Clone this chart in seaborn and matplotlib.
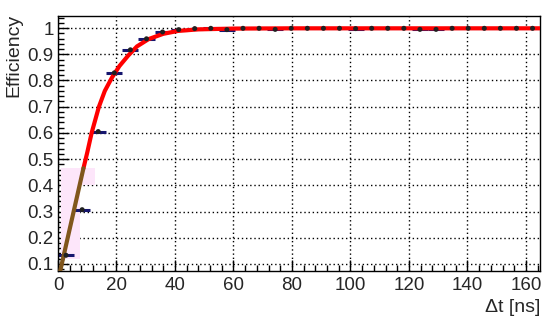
import numpy as np
import pandas as pd
import seaborn as sns
import matplotlib.pyplot as plt
from matplotlib.ticker import MultipleLocator

# Measured efficiency per 5.5 ns bin (bin centres)
bin_centres = [2.75 + 5.5 * k for k in range(30)]
efficiency = [0.133, 0.307, 0.605, 0.829, 0.917, 0.959, 0.985, 0.994, 0.998, 0.999,
              0.994, 0.999, 0.999, 0.995, 0.999, 0.999, 0.999, 0.999, 0.998, 0.999,
              0.999, 0.999, 0.995, 0.995, 0.999, 0.999, 0.999, 0.999, 0.999, 0.999]
eff_err = [0.008, 0.008, 0.007, 0.005, 0.004, 0.003, 0.002, 0.002, 0.001, 0.001,
           0.002, 0.001, 0.001, 0.002, 0.001, 0.001, 0.001, 0.001, 0.001, 0.001,
           0.001, 0.001, 0.002, 0.002, 0.001, 0.001, 0.001, 0.001, 0.001, 0.001]
bin_half_width = 2.75

# Fitted curve
fit_t = [8.7, 10, 11.5, 13, 14, 16, 18.4, 21, 24, 27, 31, 36, 41, 48, 60, 80, 165]
fit_eff = [0.465, 0.525, 0.6, 0.66, 0.7, 0.76, 0.81, 0.855, 0.895, 0.93, 0.958,
           0.978, 0.989, 0.995, 0.998, 0.999, 0.999]

# Linear part at low delta t
lin_t = [0.75, 8.7]
lin_eff = [0.073, 0.465]

# Pink band (staircase)
band_t = [0.9, 7.5, 12.6]
band_low = [0.12, 0.40, 0.40]
band_high = [0.465, 0.465, 0.465]

xticks = [0, 20, 40, 60, 80, 100, 120, 140, 160]
yticks = [0.1, 0.2, 0.3, 0.4, 0.5, 0.6, 0.7, 0.8, 0.9, 1.0]
ytick_labels = ["0.1", "0.2", "0.3", "0.4", "0.5", "0.6", "0.7", "0.8", "0.9", "1"]

sns.set_style("white")
plt.rcParams['font.family'] = ['Liberation Sans', 'DejaVu Sans']

fig = plt.figure(figsize=(5.5, 3.24), dpi=100)
ax = fig.add_axes([58 / 550, 53 / 324, 482 / 550, 255 / 324])

ax.fill_between(band_t, band_low, band_high, step='post', color='#fde6fa', lw=0, zorder=1)

df_pts = pd.DataFrame({'t': bin_centres, 'eff': efficiency})
ax.errorbar(bin_centres, efficiency, xerr=bin_half_width, fmt='none',
            ecolor='#16166e', elinewidth=2.2, zorder=2)
ax.errorbar(bin_centres, efficiency, yerr=eff_err, fmt='none',
            ecolor='black', elinewidth=1.2, zorder=2)

df_fit = pd.DataFrame({'t': fit_t, 'eff': fit_eff})
sns.lineplot(data=df_fit, x='t', y='eff', color='#ff0000', lw=3, ax=ax, zorder=3)
df_lin = pd.DataFrame({'t': lin_t, 'eff': lin_eff})
sns.lineplot(data=df_lin, x='t', y='eff', color='#80561c', lw=3, ax=ax, zorder=3)

sns.scatterplot(data=df_pts, x='t', y='eff', color='#202020', s=13, marker='o',
                edgecolor='none', ax=ax, zorder=4)

ax.set_xlim(0, 164.8)
ax.set_ylim(0.073, 1.046)
ax.set_xticks(xticks)
ax.set_xticklabels([str(v) for v in xticks])
ax.set_yticks(yticks)
ax.set_yticklabels(ytick_labels)
ax.xaxis.set_minor_locator(MultipleLocator(4))
ax.yaxis.set_minor_locator(MultipleLocator(0.02))
ax.tick_params(axis='both', which='major', direction='in', length=8, width=1,
               labelsize=13.5, color='black', pad=4)
ax.tick_params(axis='both', which='minor', direction='in', length=4, width=1,
               color='black')
ax.tick_params(axis='y', which='major', pad=3)
ax.tick_params(top=False, right=False, which='both', bottom=True, left=True)

ax.grid(True, which='major', color='black', linestyle=(0, (1, 2)), lw=1)
for sp in ax.spines.values():
    sp.set_color('black')
    sp.set_linewidth(1)

ax.set_xlabel("")
ax.set_ylabel("")
ax.text(-0.091, 1.008, "Efficiency", rotation=90, ha='center', va='top',
        transform=ax.transAxes, fontsize=14)
ax.text(1.0, -0.108, "\u0394t [ns]", ha='right', va='top',
        transform=ax.transAxes, fontsize=14)

fig.savefig("out.png", dpi=100)
